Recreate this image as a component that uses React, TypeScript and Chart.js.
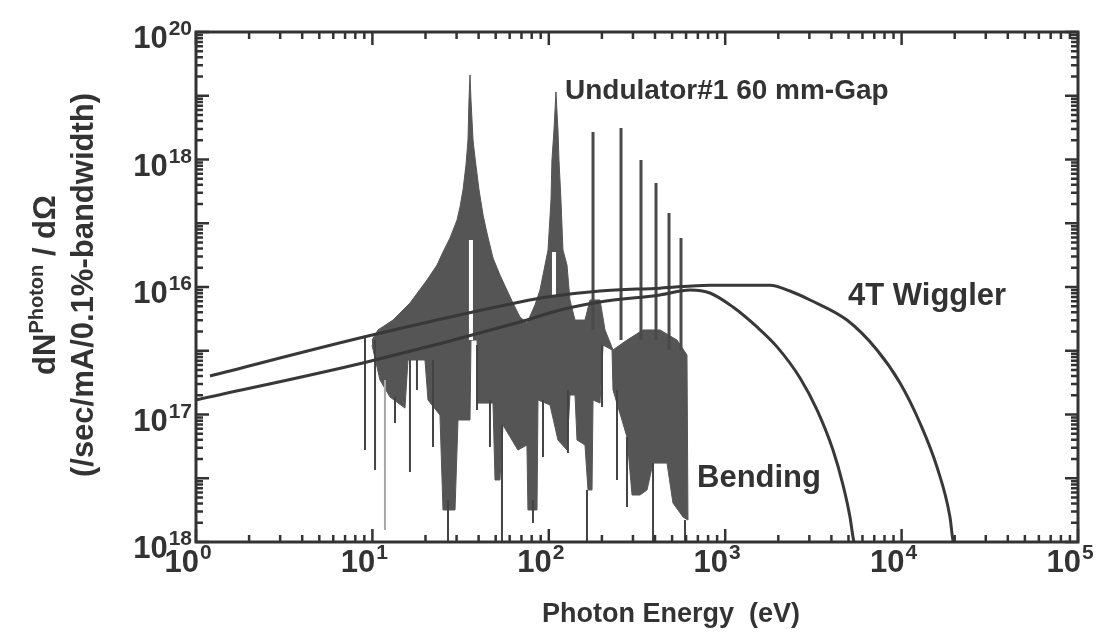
import React, { useEffect, useRef } from "react";
import { Chart, registerables } from "chart.js";

Chart.register(...registerables);

// ---------- data (energy in eV) ----------
const bendingEnergy = [1.0, 9.31, 68.7, 116, 195, 427, 632, 820, 1107, 1514, 1968, 2656, 3315, 4083, 4656, 5098, 5302, 5445];
const bendingFlux = [1.69e14, 6.66e14, 2.82e15, 4.36e15, 5.82e15, 7.5e15, 8.97e15, 8.05e15, 4.85e15, 2.36e15, 1.15e15, 3.74e14, 1.18e14, 2.77e13, 7.83e12, 2.47e12, 1.2e12, 8.5e11];

const wigglerEnergy = [1.2, 9.44, 68.7, 97.7, 195, 427, 820, 1795, 2328, 3027, 4902, 7253, 9800, 12710, 15870, 18800, 19550, 20330];
const wigglerFlux = [4.02e14, 1.7e15, 5.82e15, 6.97e15, 8.65e15, 9.6e15, 1.07e16, 1.07e16, 8.65e15, 6.25e15, 3.03e15, 1.03e15, 3.12e14, 7.36e13, 1.5e13, 2.47e12, 1.07e12, 8.5e11];

// undulator: upper outline of the dense spectrum (left -> right)
const undulatorUpperEnergy = [9.95, 10.76, 13.09, 16.33, 20.4, 23.24, 25.13, 27.54, 30.17, 31.38, 32.63, 33.93, 34.82, 35.28, 35.75, 36.22, 37.19, 38.17, 40.23, 42.39, 44.61, 48.27, 52.86, 57.87, 62.65, 68.66, 75.18, 83.49, 89.15, 95.18, 99.0, 102.9, 104.2, 107.0, 109.8, 112.7, 114.2, 117.2, 120.3, 126.8, 131.8, 140.8, 160.4, 171.2, 195.1, 208.3, 231.2, 277.5, 342.0, 426.9, 533.2, 607.2];
const undulatorUpperFlux = [1.47e15, 2.12e15, 3.03e15, 5.61e15, 1.29e16, 2.21e16, 3.54e16, 5.87e16, 1.12e17, 1.8e17, 3.33e17, 8.2e17, 2.02e18, 8.58e18, 2.12e19, 8.58e18, 2.02e18, 1.06e18, 3.33e17, 1.35e17, 7.03e16, 2.85e16, 1.54e16, 8.97e15, 5.61e15, 3.38e15, 2.72e15, 5.22e15, 8.97e15, 2.21e16, 3.8e16, 2.32e17, 9.8e17, 2.9e18, 1.15e19, 2.9e18, 9.8e17, 2.32e17, 3.8e16, 2.21e16, 6.25e15, 3.03e15, 3.03e15, 6.25e15, 6.25e15, 2.12e15, 1.03e15, 1.47e15, 2.12e15, 2.12e15, 1.47e15, 8.57e14];

// undulator: lower outline of the dense spectrum (left -> right)
const undulatorLowerEnergy = [9.95, 11.04, 12.59, 15.3, 15.91, 19.86, 20.66, 24.16, 25.13, 29.4, 30.57, 35.75, 36.22, 39.19, 39.7, 48.27, 49.55, 52.86, 54.99, 66.86, 75.18, 76.17, 85.71, 86.84, 101.6, 112.7, 126.8, 131.8, 140.8, 144.5, 160.4, 166.8, 175.8, 178.1, 195.1, 203.0, 228.2, 231.2, 277.5, 296.4, 328.8, 360.4, 389.8, 467.9, 505.7, 576.5, 615.1];
const undulatorLowerFlux = [1.23e15, 3.48e14, 1.88e14, 1.26e14, 7.16e14, 7.16e14, 1.69e14, 9.8e13, 3.18e12, 3.18e12, 8.2e13, 8.2e13, 1.47e15, 1.47e15, 1.51e14, 1.51e14, 9.4e12, 9.4e12, 6.84e13, 2.77e13, 3.32e13, 3.18e12, 3.18e12, 1.69e14, 1.41e14, 3.98e13, 2.77e13, 2.02e14, 2.02e14, 3.98e13, 3.32e13, 6.55e12, 6.55e12, 1.69e14, 1.51e14, 1.23e15, 1.03e15, 2.42e14, 4.44e13, 5.46e12, 5.46e12, 6.55e12, 1.73e13, 1.73e13, 4.09e12, 2.47e12, 2.21e12];

// white notches inside the two lowest harmonics
const notchEnergy = [36.2, 107.0];
const notchTop = [5.46e16, 3.54e16];
const notchBottom = [1.47e15, 6.97e15];

// higher odd harmonics (narrow peaks)
const harmonicEnergy = [178.1, 256.7, 333.1, 405.3, 480.3, 561.6];
const harmonicPeak = [2.7e18, 3.12e18, 9.8e17, 4.28e17, 1.45e17, 5.87e16];
const harmonicBase = [2.12e15, 1.47e15, 1.47e15, 1.47e15, 1.03e15, 1.03e15];

// narrow dips reaching below the dense band
const dipEnergy = [9.08, 10.35, 13.43, 16.33, 17.89, 22.06, 26.83, 39.19, 46.4, 54.27, 81.33, 92.72, 128.4, 164.6, 200.3, 243.6, 277.5, 389.8, 591.7];
const dipTop = [1.64e15, 1.47e15, 1.88e14, 7.16e14, 7.16e14, 7.16e14, 4.56e12, 1.23e15, 1.69e14, 6.84e13, 4.56e12, 1.69e14, 2.42e14, 6.55e12, 1.23e15, 2.42e14, 4.44e13, 1.73e13, 2.21e12];
const dipBottom = [2.77e13, 1.35e13, 7.36e13, 1.25e13, 2.42e14, 3.09e13, 1e12, 1.18e14, 3.09e13, 1e12, 1.99e12, 2.15e13, 2.49e13, 1e12, 1.31e14, 9.4e12, 3.54e12, 1e12, 1e12];
const faintDipEnergy = [11.78];
const faintDipTop = [3.48e14];
const faintDipBottom = [1.54e12];

// axes
const xMin = 1;
const xMax = 1e5;
const yMin = 1e12;
const yMax = 1e20;
const xTickValues = [1, 10, 100, 1000, 10000, 100000];
const xTickExponents = ["0", "1", "2", "3", "4", "5"];
const yTickValues = [1e20, 1e18, 1e16, 1e14, 1e12];
const yTickExponents = ["20", "18", "16", "17", "18"];

const xTitle = "Photon Energy  (eV)";
const yTitleMain = "dN";
const yTitleSup = "Photon";
const yTitleRest = " / dΩ";
const yTitleLine2 = "(/sec/mA/0.1%-bandwidth)";
const labelUndulator = "Undulator#1 60 mm-Gap";
const labelWiggler = "4T Wiggler";
const labelBending = "Bending";

// ---------- helpers ----------
const FONT = '"Liberation Sans", Arial, Helvetica, sans-serif';
const INK = "#333333";

const pts = (e: number[], f: number[]) => e.map((x, i) => ({ x, y: f[i] }));
const segs = (e: number[], top: number[], bot: number[]) =>
  e.flatMap((x, i) => [
    { x, y: top[i] },
    { x, y: bot[i] },
    { x, y: null as any },
  ]);

function drawPower(ctx: CanvasRenderingContext2D, exp: string, x: number, y: number, align: "right" | "center") {
  const baseFont = `bold 31px ${FONT}`;
  const expFont = `bold 21px ${FONT}`;
  ctx.font = baseFont;
  const w1 = ctx.measureText("10").width;
  ctx.font = expFont;
  const w2 = ctx.measureText(exp).width;
  const total = w1 + 1 + w2;
  const x0 = align === "right" ? x - total : x - total / 2;
  ctx.textAlign = "left";
  ctx.textBaseline = "alphabetic";
  ctx.font = baseFont;
  ctx.fillText("10", x0, y);
  ctx.font = expFont;
  ctx.fillText(exp, x0 + w1 + 1, y - 13);
}

const decorations = {
  id: "decorations",
  afterDatasetsDraw(chart: any) {
    const { ctx, chartArea: a, scales } = chart;
    const xs = scales.x;
    const ys = scales.y;
    ctx.save();
    ctx.strokeStyle = INK;
    ctx.fillStyle = INK;

    // inward ticks on all four sides
    ctx.lineWidth = 2.5;
    ctx.beginPath();
    for (let d = 0; d <= 5; d++) {
      for (let m = 1; m <= 9; m++) {
        if (d === 5 && m > 1) break;
        const px = xs.getPixelForValue(m * Math.pow(10, d));
        const len = m === 1 ? 13 : 7;
        ctx.moveTo(px, a.bottom);
        ctx.lineTo(px, a.bottom - len);
        ctx.moveTo(px, a.top);
        ctx.lineTo(px, a.top + len);
      }
    }
    for (let d = 12; d <= 20; d++) {
      for (let m = 1; m <= 9; m++) {
        if (d === 20 && m > 1) break;
        const py = ys.getPixelForValue(m * Math.pow(10, d));
        const len = m === 1 ? 13 : 7;
        ctx.moveTo(a.left, py);
        ctx.lineTo(a.left + len, py);
        ctx.moveTo(a.right, py);
        ctx.lineTo(a.right - len, py);
      }
    }
    ctx.stroke();

    // frame
    ctx.lineWidth = 3;
    ctx.strokeRect(a.left, a.top, a.right - a.left, a.bottom - a.top);

    // tick labels
    xTickValues.forEach((v, i) => {
      const px = xs.getPixelForValue(v);
      drawPower(ctx, xTickExponents[i], px - 8, a.bottom + 30, "center");
    });
    yTickValues.forEach((v, i) => {
      const py = ys.getPixelForValue(v);
      drawPower(ctx, yTickExponents[i], a.left - 4, py + 16, "right");
    });

    // x title
    ctx.font = `bold 27px ${FONT}`;
    ctx.textAlign = "center";
    ctx.textBaseline = "alphabetic";
    ctx.fillText(xTitle, 671, 622);

    // y title (two rotated lines)
    ctx.save();
    ctx.translate(44, 285);
    ctx.rotate(-Math.PI / 2);
    const f1 = `bold 31px ${FONT}`;
    const fs = `bold 20px ${FONT}`;
    ctx.font = f1;
    const wa = ctx.measureText(yTitleMain).width;
    const wc = ctx.measureText(yTitleRest).width;
    ctx.font = fs;
    const wb = ctx.measureText(yTitleSup).width;
    const x0 = -(wa + wb + wc) / 2;
    ctx.textAlign = "left";
    ctx.font = f1;
    ctx.fillText(yTitleMain, x0, 11);
    ctx.font = fs;
    ctx.fillText(yTitleSup, x0 + wa, -1);
    ctx.font = f1;
    ctx.fillText(yTitleRest, x0 + wa + wb, 11);
    ctx.restore();

    ctx.save();
    ctx.translate(82, 285);
    ctx.rotate(-Math.PI / 2);
    ctx.font = `bold 31px ${FONT}`;
    ctx.textAlign = "center";
    ctx.fillText(yTitleLine2, 0, 11);
    ctx.restore();

    // curve labels
    ctx.textAlign = "left";
    ctx.font = `bold 28px ${FONT}`;
    ctx.fillText(labelUndulator, 565, 99);
    ctx.font = `bold 31px ${FONT}`;
    ctx.fillText(labelWiggler, 848, 305);
    ctx.fillText(labelBending, 697, 487);

    ctx.restore();
  },
};

export default function App() {
  const ref = useRef<HTMLCanvasElement>(null);

  useEffect(() => {
    if (!ref.current) return;
    const undulatorShape = [
      ...pts(undulatorUpperEnergy, undulatorUpperFlux),
      ...pts(undulatorLowerEnergy, undulatorLowerFlux).reverse(),
    ];
    const chart = new Chart(ref.current, {
      type: "scatter",
      data: {
        datasets: [
          {
            label: "4T Wiggler",
            data: pts(wigglerEnergy, wigglerFlux),
            showLine: true,
            borderColor: "#383838",
            borderWidth: 3,
            pointRadius: 0,
            cubicInterpolationMode: "monotone",
            order: 0,
          },
          {
            label: "Bending",
            data: pts(bendingEnergy, bendingFlux),
            showLine: true,
            borderColor: "#383838",
            borderWidth: 3,
            pointRadius: 0,
            cubicInterpolationMode: "monotone",
            order: 0,
          },
          {
            label: "Undulator notches",
            data: segs(notchEnergy, notchTop, notchBottom),
            showLine: true,
            spanGaps: false,
            borderColor: "#ffffff",
            borderWidth: 4,
            pointRadius: 0,
            order: 1,
          },
          {
            label: "Undulator harmonics",
            data: segs(harmonicEnergy, harmonicPeak, harmonicBase),
            showLine: true,
            spanGaps: false,
            borderColor: "#4a4a4a",
            borderWidth: 3,
            pointRadius: 0,
            order: 1,
          },
          {
            label: "Undulator dips",
            data: segs(dipEnergy, dipTop, dipBottom),
            showLine: true,
            spanGaps: false,
            borderColor: "#444444",
            borderWidth: 2,
            pointRadius: 0,
            order: 1,
          },
          {
            label: "Undulator faint dips",
            data: segs(faintDipEnergy, faintDipTop, faintDipBottom),
            showLine: true,
            spanGaps: false,
            borderColor: "#a8a8a8",
            borderWidth: 2,
            pointRadius: 0,
            order: 1,
          },
          {
            label: "Undulator#1 60 mm-Gap",
            data: undulatorShape,
            showLine: true,
            fill: "shape",
            backgroundColor: "#555555",
            borderColor: "#555555",
            borderWidth: 1,
            pointRadius: 0,
            tension: 0,
            order: 2,
          },
        ] as any,
      },
      options: {
        responsive: false,
        maintainAspectRatio: false,
        animation: false,
        devicePixelRatio: 1,
        events: [],
        layout: { padding: { left: 196, right: 22, top: 32, bottom: 97 } },
        scales: {
          x: { type: "logarithmic", min: xMin, max: xMax, display: false },
          y: { type: "logarithmic", min: yMin, max: yMax, display: false },
        },
        plugins: {
          legend: { display: false },
          tooltip: { enabled: false },
          title: { display: false },
        },
      },
      plugins: [decorations],
    } as any);
    return () => chart.destroy();
  }, []);

  return (
    <div style={{ position: "fixed", left: 0, top: 0, width: 1100, height: 639, background: "#ffffff" }}>
      <canvas ref={ref} width={1100} height={639} style={{ display: "block", width: 1100, height: 639 }} />
    </div>
  );
}
